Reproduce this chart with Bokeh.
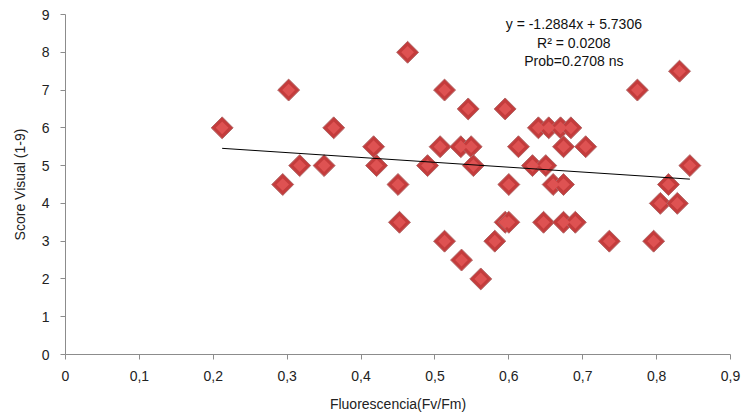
import numpy as np
from bokeh.plotting import figure
from bokeh.models import Range1d, FixedTicker, Label
from bokeh.embed import file_html
from bokeh.resources import INLINE

# Data
fluor = [0.212, 0.294, 0.302, 0.317, 0.350, 0.363, 0.417, 0.421, 0.450, 0.452,
         0.463, 0.490, 0.507, 0.513, 0.513, 0.535, 0.536, 0.545, 0.549, 0.552,
         0.562, 0.581, 0.595, 0.595, 0.600, 0.600, 0.613, 0.632, 0.640, 0.650,
         0.654, 0.647, 0.660, 0.670, 0.674, 0.674, 0.674, 0.684, 0.690, 0.704,
         0.736, 0.774, 0.796, 0.805, 0.816, 0.828, 0.831, 0.845]
score = [6.0, 4.5, 7.0, 5.0, 5.0, 6.0, 5.5, 5.0, 4.5, 3.5,
         8.0, 5.0, 5.5, 7.0, 3.0, 5.5, 2.5, 6.5, 5.5, 5.0,
         2.0, 3.0, 6.5, 3.5, 3.5, 4.5, 5.5, 5.0, 6.0, 5.0,
         6.0, 3.5, 4.5, 6.0, 4.5, 5.5, 3.5, 6.0, 3.5, 5.5,
         3.0, 7.0, 3.0, 4.0, 4.5, 4.0, 7.5, 5.0]

slope = -1.2884
intercept = 5.7306
eq_lines = ["y = -1.2884x + 5.7306", "R\u00b2 = 0.0208", "Prob=0.2708 ns"]

x_ticks = [0, 0.1, 0.2, 0.3, 0.4, 0.5, 0.6, 0.7, 0.8, 0.9]
x_tick_labels = ["0", "0,1", "0,2", "0,3", "0,4", "0,5", "0,6", "0,7", "0,8", "0,9"]
y_ticks = [0, 1, 2, 3, 4, 5, 6, 7, 8, 9]

FONT = "Liberation Sans"

p = figure(width=741, height=414, output_backend="svg", toolbar_location=None,
           x_range=Range1d(0, 0.9), y_range=Range1d(0, 9),
           min_border_left=65, min_border_right=11, min_border_top=14,
           min_border_bottom=60)
p.outline_line_color = None
p.xgrid.grid_line_color = None
p.ygrid.grid_line_color = None
p.background_fill_color = "white"
p.border_fill_color = "white"

for ax in (p.xaxis[0], p.yaxis[0]):
    ax.axis_line_color = "#8c8c8c"
    ax.major_tick_line_color = "#8c8c8c"
    ax.minor_tick_line_color = None
    ax.major_tick_in = 0
    ax.major_tick_out = 5
    ax.major_label_text_font = FONT
    ax.major_label_text_font_size = "14px"
    ax.major_label_text_color = "#222222"
    ax.axis_label_text_font = FONT
    ax.axis_label_text_font_size = "14px"
    ax.axis_label_text_font_style = "normal"
    ax.axis_label_text_color = "#222222"

p.xaxis.ticker = FixedTicker(ticks=x_ticks)
p.xaxis.major_label_overrides = {t: l for t, l in zip(x_ticks, x_tick_labels)}
p.yaxis.ticker = FixedTicker(ticks=y_ticks)
p.xaxis.axis_label = "Fluorescencia(Fv/Fm)"
p.yaxis.axis_label = "Score Visual (1-9)"
p.xaxis.major_label_standoff = 11
p.xaxis.axis_label_standoff = 12
p.yaxis.major_label_standoff = 11
p.yaxis.axis_label_standoff = 11

# markers: diamond (square rotated 45 deg) with a lighter highlight
p.scatter(fluor, score, marker="square", size=15.5, angle=np.pi / 4,
          fill_color="#c43c3c", line_color="#b06868", line_width=1)
p.scatter(fluor, score, marker="square", size=9, angle=np.pi / 4,
          fill_color="#de5252", line_color=None)

# trend line
xmin, xmax = min(fluor), max(fluor)
p.line([xmin, xmax], [slope * xmin + intercept, slope * xmax + intercept],
       line_color="black", line_width=1)

# equation annotation
for i, txt in enumerate(eq_lines):
    p.add_layout(Label(x=0.688, y=8.74 - i * 0.49, text=txt,
                       text_align="center", text_baseline="middle",
                       text_font=FONT, text_font_size="14px",
                       text_color="#111111"))

open("out.html", "w").write(file_html(p, INLINE))
